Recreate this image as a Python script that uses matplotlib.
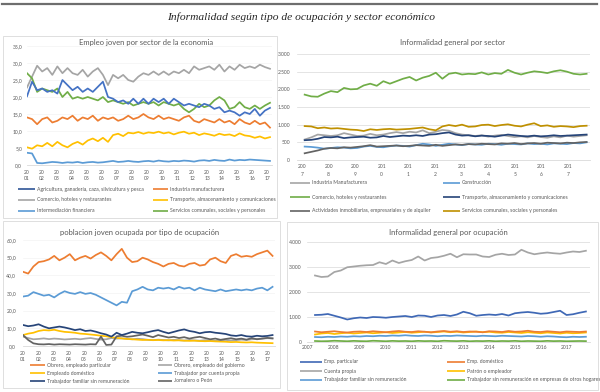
import numpy as np
import matplotlib
matplotlib.use("Agg")
import matplotlib.pyplot as plt
from matplotlib.lines import Line2D
from matplotlib.patches import Rectangle

plt.rcParams['font.family'] = ['Lato', 'DejaVu Sans']

# ---------------- DATA ----------------
# Panel 1: Empleo joven por sector de la economia (%), 2001-2017
p1_years = list(range(2001, 2018))
p1_labels = ["Agricultura, ganadería, caza, silvicultura y pesca", "Industria manufacturera",
             "Comercio, hoteles y restaurantes", "Transporte, almacenamiento y comunicaciones",
             "Intermediación financiera", "Servicios comunales, sociales y personales"]
p1_agri = [20.2, 24.5, 22, 22.5, 21.5, 22, 21, 25, 23.5, 22, 23, 21.5, 22.5, 21.5, 23, 24.5, 20,
           19.5, 18.5, 19, 18, 19.5, 18, 19.5, 18, 19.5, 18.5, 19.5, 18, 19.5, 18.5, 17.5, 18, 17.5,
           17, 18, 17.5, 16.5, 17, 15.5, 16, 15.5, 14.5, 15.5, 15, 16.5, 14.5, 16, 16.8]
p1_ind = [14, 13.5, 12, 13.5, 14, 12.5, 13, 14, 13.5, 14.5, 13, 14, 13.5, 14.5, 13, 14, 13.5, 14,
          13, 13.5, 14.5, 13.5, 14, 15, 14, 13.5, 14.5, 13.5, 14, 13.5, 13, 14, 14.5, 13, 12.5,
          13.5, 13, 12.5, 13.5, 12.5, 13, 12, 13.5, 12.5, 12, 13, 12, 12.5, 11]
p1_com = [22.8, 26, 29.2, 27.5, 28.5, 26.5, 29, 27, 28.5, 27, 26.5, 28, 26, 27.5, 28.5, 26.5, 23.5,
          26.5, 25.5, 26.5, 25, 24.5, 26, 27, 26.5, 27.5, 26.5, 27.5, 26.5, 27.5, 27, 28, 27, 29,
          28, 28.5, 29, 28, 29.5, 27.5, 29, 28, 29.5, 28.5, 29, 28.5, 29.5, 28.8, 28.3]
p1_trans = [5.2, 4.8, 5.8, 5.5, 6.5, 5.5, 6.8, 5.8, 5.2, 6.2, 6.8, 6.0, 7.2, 7.8, 7.0, 8.0, 6.8,
            8.8, 9.2, 8.5, 9.5, 9.3, 9.7, 9.2, 9.6, 9.4, 9.8, 9.3, 9.6, 9.0, 9.5, 9.8, 9.2, 9.5,
            8.8, 9.3, 9.0, 8.6, 9.2, 8.8, 9.0, 8.5, 9.3, 8.7, 8.5, 8.0, 8.4, 7.8, 8.2]
p1_fin = [3.6, 3.4, 0.6, 0.5, 0.7, 0.9, 0.8, 0.6, 0.8, 0.7, 0.9, 0.6, 0.8, 0.9, 0.7, 0.8, 1.0, 1.2,
          0.9, 1.0, 1.2, 1.0, 0.9, 1.1, 1.2, 1.0, 1.3, 1.1, 1.0, 1.2, 1.1, 1.3, 1.2, 1.0, 1.3, 1.4,
          1.2, 1.5, 1.3, 1.2, 1.6, 1.3, 1.5, 1.4, 1.6, 1.5, 1.4, 1.3, 1.2]
p1_serv = [27, 25.5, 21.5, 22.5, 22, 21.5, 22.5, 20, 21.5, 19.5, 20, 19.5, 20, 19.5, 19, 20, 18.5,
           19, 18.5, 18, 18.5, 17.5, 18, 18.5, 18, 18.5, 17.5, 18.5, 18, 17.5, 18, 16.5, 15.5,
           16.5, 18, 17, 17.5, 19, 20, 19, 16.5, 17, 18.5, 17, 16.5, 17.5, 16.5, 17.5, 18.3]

# Panel 2: Informalidad general por sector (miles), 2007-2017
p2_years = list(range(2007, 2018))
p2_labels = ["Industria Manufacturera", "Construcción", "Comercio, hoteles y restaurantes",
             "Transporte, almacenamiento y comunicaciones",
             "Actividades inmobiliarias, empresariales y de alquiler",
             "Servicios comunales, sociales y personales"]
p2_ind = [580, 640, 720, 700, 680, 700, 760, 720, 680, 690, 740, 700, 720, 760, 790, 760, 800, 780,
          840, 760, 800, 850, 830, 760, 720, 700, 680, 700, 660, 690, 710, 680, 650, 670, 640, 680,
          650, 630, 670, 640, 690, 660, 680, 700]
p2_cons = [380, 370, 350, 320, 340, 360, 350, 330, 340, 380, 400, 370, 360, 390, 410, 400, 380,
           420, 460, 440, 400, 430, 460, 440, 420, 450, 440, 430, 460, 450, 430, 460, 450, 440,
           470, 450, 460, 440, 470, 460, 450, 480, 470, 500]
p2_com = [1850, 1800, 1790, 1880, 1950, 1920, 2040, 2000, 2010, 2110, 2160, 2100, 2230, 2160,
          2230, 2300, 2350, 2250, 2330, 2380, 2470, 2300, 2440, 2470, 2420, 2440, 2430, 2480,
          2420, 2460, 2440, 2550, 2470, 2420, 2470, 2510, 2490, 2460, 2510, 2540, 2500, 2440,
          2420, 2440]
p2_trans = [560, 570, 600, 650, 640, 660, 620, 640, 650, 660, 630, 640, 680, 650, 670, 690, 680,
            700, 680, 720, 730, 760, 780, 720, 690, 700, 670, 690, 680, 660, 690, 720, 700, 680,
            670, 690, 670, 680, 700, 680, 690, 700, 710, 720]
p2_act = [190, 230, 270, 320, 340, 330, 360, 350, 370, 390, 420, 380, 390, 400, 410, 390, 400,
          420, 410, 400, 430, 400, 420, 440, 430, 450, 440, 460, 450, 440, 470, 460, 480, 450,
          470, 480, 460, 490, 480, 470, 490, 480, 500, 510]
p2_serv = [960, 950, 900, 920, 890, 900, 880, 860, 850, 820, 870, 850, 870, 880, 860, 870, 880,
           900, 920, 870, 840, 950, 990, 960, 1000, 940, 950, 990, 1000, 960, 990, 1010, 970, 950,
           1000, 1040, 960, 980, 940, 960, 950, 930, 960, 970]

# Panel 3: poblacion joven ocupada por tipo de ocupación (%), 2001-2017
p3_years = list(range(2001, 2018))
p3_labels = ["Obrero, empleado particular", "Obrero, empleado del gobierno", "Empleado doméstico",
             "Trabajador por cuenta propia", "Trabajador familiar sin remuneración", "Jornalero o Peón"]
p3_part = [42, 41, 45, 47.5, 48, 49, 51, 48.5, 50, 52, 48.5, 50, 51, 49.5, 51.5, 53, 51, 48.5, 52,
           55, 50, 47.5, 48, 50, 49, 47.5, 46.5, 45, 46.5, 47, 45.5, 45, 46.5, 47, 45.5, 46, 49, 50,
           48, 47, 51, 52, 50.5, 51, 50.5, 52, 53, 54, 51]
p3_gob = [5.3, 4.5, 3.8, 4, 4.3, 3.9, 4.2, 4, 3.7, 3.9, 4.1, 3.8, 4.2, 4.5, 4, 3.6, 3.8, 4.5, 4.2,
          4.3, 4, 3.8, 4.1, 3.9, 3.5, 3.3, 3.6, 3.4, 3.2, 3.5, 3.3, 3.1, 3.4, 3.2, 3, 3.3, 3.1, 2.9,
          3.2, 3.4, 3.1, 3.3, 3.6, 3.4, 3.8, 4, 4.2, 4.4, 4.3]
p3_dom = [6.2, 7, 7.5, 8.5, 9, 8.8, 9.2, 8.5, 8, 7.8, 7.5, 7, 6.8, 6.5, 6.2, 5.8, 5.5, 5, 4.6, 4.3,
          4, 3.8, 3.6, 3.4, 3.5, 3.3, 3.4, 3.2, 3.3, 3.1, 3.2, 3.0, 2.9, 3.0, 2.8, 2.7, 2.8, 2.6,
          2.5, 2.4, 2.2, 2.3, 2.1, 2.0, 2.1, 1.9, 1.8, 1.7, 1.6]
p3_cp = [28, 28.5, 30.5, 29.5, 28.5, 29, 27.5, 29.5, 31, 30, 29.5, 30.5, 29.5, 30, 29, 27.5, 26,
         24.5, 23, 25, 24.5, 31, 32, 33.5, 32, 31.5, 33, 32.5, 33, 32, 33.5, 32.5, 33, 31.5, 33,
         32, 31.5, 31, 32, 31, 31.5, 32, 31.5, 32, 31.5, 32.5, 33, 31.5, 33.5]
p3_fam = [11.9, 11.2, 11.6, 12.3, 11, 10, 10.5, 11, 10.5, 9.8, 9, 9.5, 8.5, 8.8, 8.1, 7.2, 6.5,
          5.3, 7.5, 6.2, 7, 8, 7.5, 7.2, 7.8, 8.5, 9, 8, 7.2, 8, 8.8, 9.4, 8.5, 8, 7.2, 7.8, 8, 7.5,
          7.2, 6.8, 6, 5.7, 6.2, 5.5, 5.3, 5.8, 5.5, 5.7, 6.2]
p3_jor = [6.2, 3.4, 1.5, 1.0, 0.9, 1.1, 0.8, 1.0, 0.9, 0.8, 1.0, 0.9, 0.8, 1.0, 0.9, 5.3, 0.6, 0.8,
          5.5, 5.8, 5.2, 5.5, 6, 6.5, 5.8, 5, 6.2, 5.5, 4.8, 5.2, 4.5, 5, 4.2, 4.8, 5.2, 4.5, 3.8,
          4.2, 3.5, 4, 4.4, 3.8, 4.2, 3.6, 4.5, 3.8, 4.2, 4.6, 4.3]

# Panel 4: Informalidad general por ocupación (miles), 2007-2017
p4_years = list(range(2007, 2018))
p4_labels = ["Emp. particular", "Emp. doméstico", "Cuenta propia", "Patrón o empleador",
             "Trabajador familiar sin remuneración",
             "Trabajador sin remuneración en empresas de otros hogares"]
p4_part = [1080, 1090, 1120, 1050, 980, 900, 950, 980, 960, 1000, 990, 970, 1000, 1020, 1040, 1000,
           1060, 1050, 1000, 1060, 1080, 1040, 1100, 1210, 1150, 1050, 1080, 1100, 1080, 1120,
           1060, 1150, 1180, 1200, 1170, 1130, 1150, 1200, 1250, 1080, 1110, 1170, 1220]
p4_dom = [420, 390, 410, 430, 400, 380, 410, 420, 400, 430, 410, 390, 420, 440, 410, 400, 430, 410,
          390, 420, 440, 410, 430, 400, 420, 410, 390, 430, 420, 400, 440, 410, 420, 450, 410, 400,
          430, 410, 390, 420, 410, 400, 420]
p4_cp = [2660, 2600, 2620, 2800, 2860, 2990, 3020, 3050, 3070, 3080, 3190, 3120, 3260, 3160, 3230,
         3280, 3420, 3260, 3360, 3390, 3450, 3530, 3390, 3510, 3500, 3500, 3420, 3400, 3490, 3530,
         3480, 3500, 3690, 3580, 3510, 3550, 3580, 3550, 3530, 3580, 3620, 3600, 3650]
p4_pat = [300, 340, 360, 320, 350, 370, 340, 360, 380, 350, 370, 390, 360, 380, 400, 370, 390, 410,
          380, 400, 420, 390, 410, 380, 400, 420, 390, 410, 380, 370, 400, 380, 360, 390, 370, 350,
          380, 360, 340, 370, 350, 360, 380]
p4_fam = [200, 190, 210, 200, 220, 210, 230, 220, 240, 230, 250, 240, 260, 250, 270, 250, 240, 260,
          250, 230, 250, 240, 260, 250, 240, 230, 250, 240, 230, 250, 240, 230, 220, 240, 230, 210,
          230, 220, 200, 190, 210, 200, 210]
p4_hog = [40, 30, 35, 50, 40, 30, 45, 35, 30, 50, 40, 30, 45, 35, 40, 30, 45, 35, 40, 30, 50, 40,
          35, 45, 30, 40, 35, 45, 30, 40, 35, 45, 30, 40, 35, 30, 45, 35, 40, 30, 35, 40, 35]

# ---------------- STYLE ----------------
BLUE, ORANGE, GRAY, GOLD = "#4472C4", "#ED7D31", "#A5A5A5", "#FFC000"
LBLUE, GREEN, NAVY, DGRAY, DGOLD = "#5B9BD5", "#70AD47", "#264478", "#636363", "#BF9000"
TXT = "#595959"
GRID = "#D9D9D9"
TICK_FS = 3.6
LEG_FS = 3.7
TITLE_FS = 5.5

W, H = 600, 392
fig = plt.figure(figsize=(6.0, 3.92), dpi=100)


def fx(x):
    return x / W


def fy(y):
    return 1 - y / H


def add_ax(l, t, r, b):
    return fig.add_axes([fx(l), fy(b), (r - l) / W, (b - t) / H])


def box(l, t, r, b):
    fig.patches.append(Rectangle((fx(l), fy(b)), (r - l) / W, (b - t) / H,
                                 transform=fig.transFigure, facecolor="none",
                                 edgecolor=GRID, lw=0.6, zorder=0))


def legend(entries, cols, rows, linew, fs=LEG_FS):
    for k, (lab, col) in enumerate(entries):
        r, c = k // 2, k % 2
        x0, x1, xt = cols[c]
        y = rows[r]
        fig.lines.append(Line2D([fx(x0), fx(x1)], [fy(y), fy(y)], transform=fig.transFigure,
                                color=col, lw=linew, solid_capstyle="butt"))
        fig.text(fx(xt), fy(y), lab, fontsize=fs, color=TXT, va="center", ha="left")


def style(ax, grid=True):
    for s in ["top", "right", "left"]:
        ax.spines[s].set_visible(False)
    ax.spines["bottom"].set_color(GRID)
    ax.spines["bottom"].set_linewidth(0.6)
    ax.tick_params(length=0, labelsize=TICK_FS, labelcolor=TXT)
    ax.set_facecolor("none")
    if grid:
        ax.grid(axis="y", color=GRID, lw=0.5)
        ax.set_axisbelow(True)


# top rule and main title
fig.lines.append(Line2D([fx(2), fx(597)], [fy(3.5), fy(3.5)], transform=fig.transFigure,
                        color="#6E6E6E", lw=1.6))
fig.text(fx(301), fy(17), "Informalidad según tipo de ocupación y sector económico",
         family=["Liberation Serif", "DejaVu Serif"], style="italic", fontsize=8.25,
         color="#262626", ha="center", va="center")

# panel boxes
box(3, 36, 277, 218)
box(3, 221, 280, 388)
box(287, 222, 598, 390)

# ---------------- PANEL 1 ----------------
ax1 = add_ax(27, 46, 272, 165)
t1 = np.linspace(2001.0, 2017.2, len(p1_agri))
for vals, col in [(p1_com, GRAY), (p1_ind, ORANGE), (p1_trans, GOLD), (p1_serv, GREEN),
                  (p1_agri, BLUE), (p1_fin, LBLUE)]:
    ax1.plot(t1, vals, color=col, lw=1.25)
ax1.set_xlim(2001, 2017 + 5 / 15)
ax1.set_ylim(0, 35)
ax1.set_yticks(np.arange(0, 36, 5))
ax1.set_yticklabels([f"{v:.1f}".replace(".", ",") for v in np.arange(0, 36, 5)])
ax1.set_xticks(p1_years)
ax1.set_xticklabels([f"20\n{y % 100:02d}" for y in p1_years], linespacing=1.4)
style(ax1, grid=False)
ax1.grid(axis="y", color="#EFEFEF", lw=0.4)
ax1.tick_params(axis="x", pad=3.5)
ax1.tick_params(axis="y", pad=3.5)
fig.text(fx(146), fy(43), "Empleo joven por sector de la economia", fontsize=TITLE_FS,
         color=TXT, ha="center", va="center")
legend([(p1_labels[0], "#2F5597"), (p1_labels[1], ORANGE), (p1_labels[2], GRAY),
        (p1_labels[3], GOLD), (p1_labels[4], LBLUE), (p1_labels[5], GREEN)],
       cols=[(18, 35, 37), (153, 168, 170)], rows=[189, 200, 211], linew=1.2)

# ---------------- PANEL 2 ----------------
ax2 = add_ax(297, 54, 590, 160)
t2 = np.linspace(2007.1, 2017.7, len(p2_com))
for vals, col in [(p2_ind, GRAY), (p2_cons, LBLUE), (p2_com, GREEN), (p2_trans, NAVY),
                  (p2_act, DGRAY), (p2_serv, DGOLD)]:
    ax2.plot(t2, vals, color=col, lw=1.25)
ax2.set_xlim(2007 - 5 / 26.6, 2007 + 288 / 26.6)
ax2.set_ylim(0, 3000)
ax2.set_yticks(range(0, 3001, 500))
ax2.set_yticklabels([f"{v:,}".replace(",", ".") for v in range(0, 3001, 500)])
ax2.set_xticks(p2_years)
ax2.set_xticklabels([f"{str(y)[:3]}\n{str(y)[3]}" for y in p2_years], linespacing=1.8)
style(ax2)
ax2.tick_params(axis="x", pad=3)
ax2.tick_params(axis="y", pad=5)
fig.text(fx(452), fy(43), "Informalidad general por sector", fontsize=TITLE_FS, color=TXT,
         ha="center", va="center")
legend([(p2_labels[0], GRAY), (p2_labels[1], LBLUE), (p2_labels[2], GREEN),
        (p2_labels[3], NAVY), (p2_labels[4], DGRAY), (p2_labels[5], DGOLD)],
       cols=[(290, 310, 312), (443, 460, 462)], rows=[183, 197, 211], linew=1.2)

# ---------------- PANEL 3 ----------------
ax3 = add_ax(23, 240, 275, 346)
t3 = np.linspace(2001.0, 2017.3, len(p3_part))
for vals, col in [(p3_part, ORANGE), (p3_cp, LBLUE), (p3_gob, GRAY), (p3_dom, GOLD),
                  (p3_jor, DGRAY), (p3_fam, NAVY)]:
    ax3.plot(t3, vals, color=col, lw=1.25)
ax3.set_xlim(2001, 2001 + 252 / 15.31)
ax3.set_ylim(0, 60)
ax3.set_yticks(range(0, 61, 10))
ax3.set_yticklabels([f"{v:.1f}".replace(".", ",") for v in range(0, 61, 10)])
ax3.set_xticks(p3_years)
ax3.set_xticklabels([f"20\n{y % 100:02d}" for y in p3_years], linespacing=1.4)
style(ax3, grid=False)
ax3.grid(axis="y", color="#EFEFEF", lw=0.4)
ax3.tick_params(axis="x", pad=3.5)
ax3.tick_params(axis="y", pad=5)
fig.text(fx(140), fy(233), "poblacion joven ocupada por tipo de ocupación", fontsize=TITLE_FS,
         color=TXT, ha="center", va="center")
legend([(p3_labels[0], ORANGE), (p3_labels[1], GRAY), (p3_labels[2], GOLD),
        (p3_labels[3], LBLUE), (p3_labels[4], NAVY), (p3_labels[5], DGRAY)],
       cols=[(30, 45, 47), (158, 172, 174)], rows=[365, 373, 381], linew=1.2)

# ---------------- PANEL 4 ----------------
ax4 = add_ax(307, 242, 590, 342)
t4 = np.linspace(2007.27, 2017.73, len(p4_cp))
for vals, col in [(p4_cp, GRAY), (p4_part, "#3F68B5"), (p4_fam, LBLUE), (p4_pat, GOLD),
                  (p4_dom, ORANGE), (p4_hog, GREEN)]:
    ax4.plot(t4, vals, color=col, lw=1.25)
ax4.set_xlim(2007 - 1 / 25.9, 2007 + 282 / 25.9)
ax4.set_ylim(0, 4000)
ax4.set_yticks(range(0, 4001, 1000))
ax4.set_yticklabels([f"{v:,}".replace(",", ".") for v in range(0, 4001, 1000)])
ax4.set_xticks(p4_years)
ax4.set_xticklabels([str(y) for y in p4_years])
style(ax4)
ax4.tick_params(axis="x", pad=2.5)
ax4.tick_params(axis="y", pad=4)
fig.text(fx(448), fy(232), "Informalidad general por ocupación", fontsize=TITLE_FS, color=TXT,
         ha="center", va="center")
legend([(p4_labels[0], "#3F68B5"), (p4_labels[1], ORANGE), (p4_labels[2], GRAY),
        (p4_labels[3], GOLD), (p4_labels[4], LBLUE), (p4_labels[5], GREEN)],
       cols=[(300, 322, 324), (447, 465, 467)], rows=[362, 371, 380], linew=1.2)

fig.savefig("out.png", dpi=100, facecolor="white")
